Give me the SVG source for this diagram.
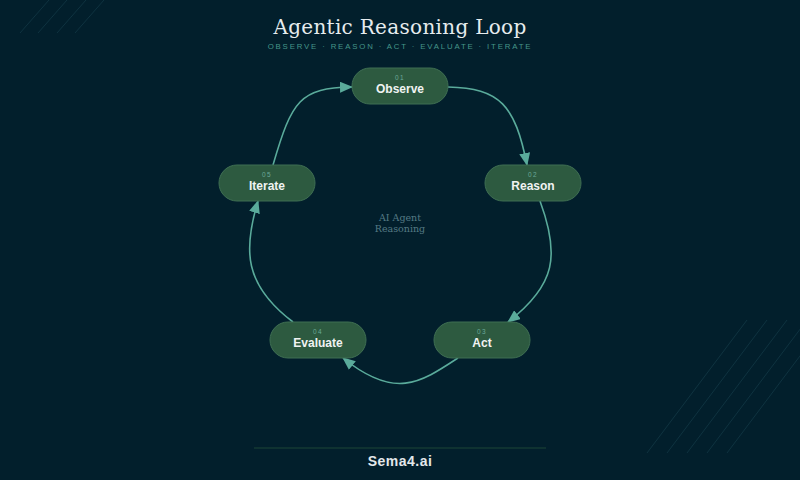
<svg xmlns="http://www.w3.org/2000/svg" width="800" height="480" viewBox="0 0 800 480">
  <defs>
    <marker id="arrow" viewBox="0 0 13 11" refX="12" refY="5.5" markerWidth="13" markerHeight="11" markerUnits="userSpaceOnUse" orient="auto">
      <path d="M0,0 L13,5.5 L0,11 Z" fill="#5aab9b"/>
    </marker>
  </defs>
  <style>
    .node rect { fill: #2d5a40; stroke: #3e6e52; stroke-width: 1; }
    .num { font-family: "Liberation Sans", Arial, sans-serif; font-size: 6.5px; fill: #6aa898; letter-spacing: 1.3px; text-anchor: middle; }
    .label { font-family: "Liberation Sans", Arial, sans-serif; font-size: 12px; font-weight: bold; fill: #f0f3f2; text-anchor: middle; }
    .conn path { fill: none; stroke: #5aab9b; stroke-width: 1.6; marker-end: url(#arrow); }
    .deco line { stroke: #0f3340; stroke-width: 1; }
  </style>
  <rect width="800" height="480" fill="#021f2c"/>
  <g class="deco">
    <line x1="20" y1="33" x2="49" y2="0"/>
    <line x1="38" y1="33" x2="67" y2="0"/>
    <line x1="57" y1="33" x2="86" y2="0"/>
    <line x1="75" y1="33" x2="104" y2="0"/>
    <line x1="647" y1="453" x2="747" y2="320"/>
    <line x1="667" y1="453" x2="767" y2="320"/>
    <line x1="687" y1="453" x2="787" y2="320"/>
    <line x1="707" y1="453" x2="807" y2="320"/>
    <line x1="727" y1="453" x2="827" y2="320"/>
  </g>
  <text x="400" y="34" text-anchor="middle" font-family="DejaVu Serif, serif" font-size="20" letter-spacing="0.3" fill="#e6ecee">Agentic Reasoning Loop</text>
  <text x="400" y="49" text-anchor="middle" font-family="Liberation Sans, Arial, sans-serif" font-size="7.8" letter-spacing="1.85" fill="#45968a">OBSERVE · REASON · ACT · EVALUATE · ITERATE</text>
  <g class="conn">
    <path d="M448,87 C500,88 515,105 527,165"/>
    <path d="M540,201 C560,255 556,285 508,322"/>
    <path d="M458,358 C420,383 395,400 343,358"/>
    <path d="M293,322 C244,285 243,250 258,201"/>
    <path d="M273,165 C292,100 300,88 352,87"/>
  </g>
  <g id="observe" class="node">
    <rect x="352" y="68" width="96" height="36" rx="18"/>
    <text class="num" x="400" y="80">01</text>
    <text class="label" x="400" y="93">Observe</text>
  </g>
  <g id="reason" class="node">
    <rect x="485" y="165" width="96" height="36" rx="18"/>
    <text class="num" x="533" y="177">02</text>
    <text class="label" x="533" y="190">Reason</text>
  </g>
  <g id="act" class="node">
    <rect x="434" y="322" width="96" height="36" rx="18"/>
    <text class="num" x="482" y="334">03</text>
    <text class="label" x="482" y="347">Act</text>
  </g>
  <g id="evaluate" class="node">
    <rect x="270" y="322" width="96" height="36" rx="18"/>
    <text class="num" x="318" y="334">04</text>
    <text class="label" x="318" y="347">Evaluate</text>
  </g>
  <g id="iterate" class="node">
    <rect x="219" y="165" width="96" height="36" rx="18"/>
    <text class="num" x="267" y="177">05</text>
    <text class="label" x="267" y="190">Iterate</text>
  </g>
  <g id="center">
    <text x="400" y="221" text-anchor="middle" font-family="DejaVu Serif, serif" font-size="9.5" fill="#557a84">AI Agent</text>
    <text x="400" y="232" text-anchor="middle" font-family="DejaVu Serif, serif" font-size="9.5" fill="#557a84">Reasoning</text>
  </g>
  <line x1="254" y1="448" x2="546" y2="448" stroke="#1c4636" stroke-width="1"/>
  <text x="400" y="466" text-anchor="middle" font-family="Liberation Sans, Arial, sans-serif" font-size="14" font-weight="bold" letter-spacing="0.5" fill="#e3e8ea">Sema4.ai</text>
</svg>
